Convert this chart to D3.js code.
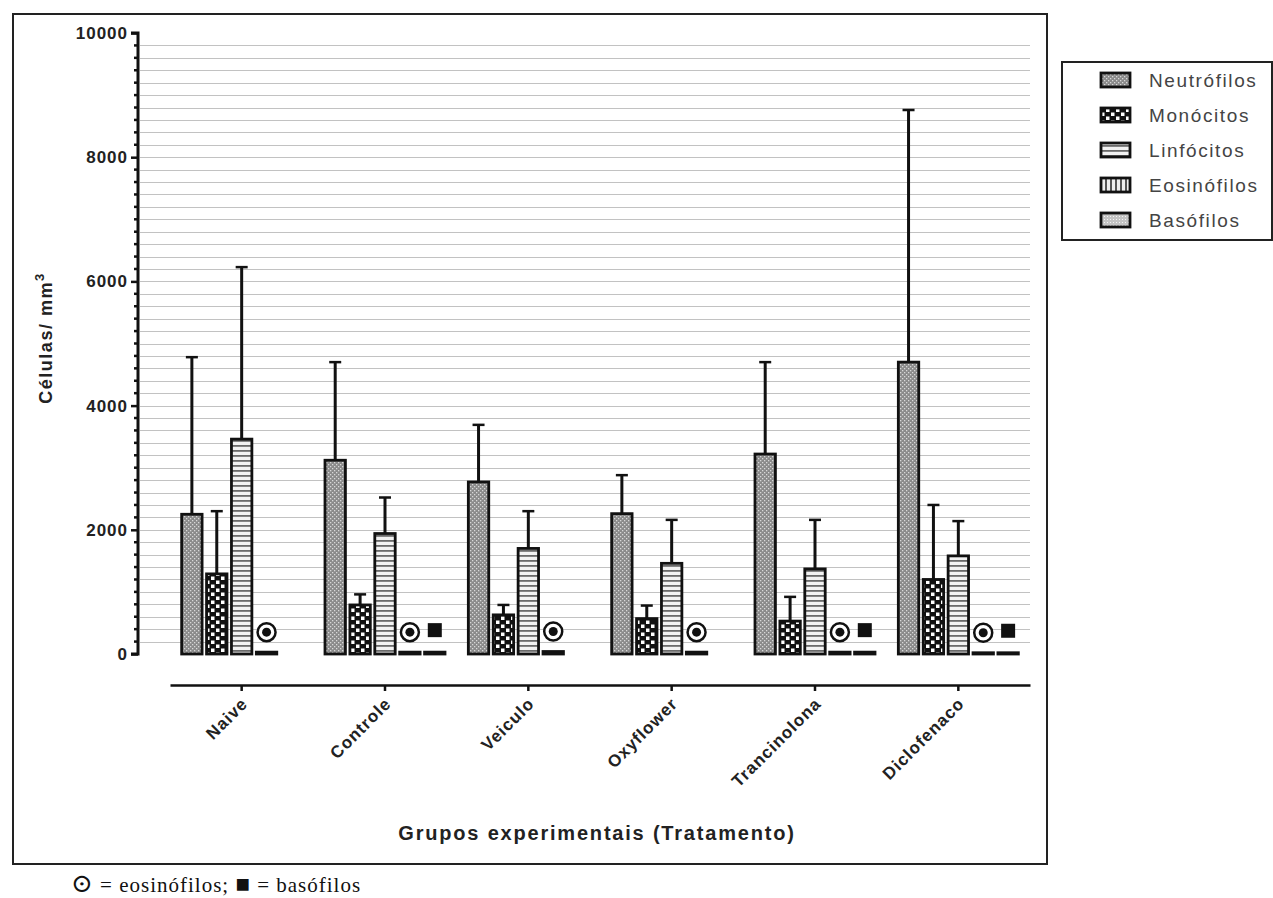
<!DOCTYPE html>
<html>
<head>
<meta charset="utf-8">
<script src="https://cdn.jsdelivr.net/npm/d3@7"></script>
<style>
  body { margin: 0; background: #fff; }
  svg { font-family: Arial, "Liberation Sans", sans-serif; }
</style>
</head>
<body>
<div id="chart"></div>
<script>
// data
const groups = ["Naive", "Controle", "Veiculo", "Oxyflower", "Trancinolona", "Diclofenaco"];
const series = ["Neutrófilos", "Monócitos", "Linfócitos", "Eosinófilos", "Basófilos"];
const neutrofilos = [2250, 3120, 2770, 2260, 3220, 4700];
const neutrofilosErr = [2530, 1580, 920, 620, 1480, 4060];
const monocitos = [1290, 790, 630, 570, 530, 1200];
const monocitosErr = [1010, 170, 160, 210, 390, 1200];
const linfocitos = [3460, 1940, 1700, 1460, 1370, 1580];
const linfocitosErr = [2770, 580, 600, 700, 790, 560];
const eosinofilos = [30, 30, 40, 30, 30, 20];
const basofilos = [null, 30, null, null, 30, 20];
const yTicks = [0, 2000, 4000, 6000, 8000, 10000];

const width = 1273;
const height = 898;

const values = [neutrofilos, monocitos, linfocitos, eosinofilos, basofilos];
const errors = [neutrofilosErr, monocitosErr, linfocitosErr, null, null];
const patternIds = ["p-neu", "p-mon", "p-lin", "p-eos", "p-bas"];

const svg = d3.select("#chart")
    .append("svg")
    .attr("width", width)
    .attr("height", height);

// patterns
const defs = svg.append("defs");

const pNeu = defs.append("pattern").attr("id", "p-neu")
    .attr("patternUnits", "userSpaceOnUse").attr("width", 4).attr("height", 4);
pNeu.append("rect").attr("width", 4).attr("height", 4).attr("fill", "#8a8a8a");
pNeu.append("rect").attr("x", 0).attr("y", 0).attr("width", 1.3).attr("height", 1.3).attr("fill", "#d8d8d8");
pNeu.append("rect").attr("x", 2).attr("y", 2).attr("width", 1.3).attr("height", 1.3).attr("fill", "#d8d8d8");

const pMon = defs.append("pattern").attr("id", "p-mon")
    .attr("patternUnits", "userSpaceOnUse").attr("width", 10).attr("height", 8);
pMon.append("rect").attr("width", 10).attr("height", 8).attr("fill", "#111");
pMon.append("rect").attr("x", 1).attr("y", 0.5).attr("width", 3.5).attr("height", 3.5).attr("fill", "#fff");
pMon.append("rect").attr("x", 6).attr("y", 4.5).attr("width", 3.5).attr("height", 3.5).attr("fill", "#fff");

const pLin = defs.append("pattern").attr("id", "p-lin")
    .attr("patternUnits", "userSpaceOnUse").attr("width", 4).attr("height", 5);
pLin.append("rect").attr("width", 4).attr("height", 5).attr("fill", "#f2f2f2");
pLin.append("rect").attr("y", 0).attr("width", 4).attr("height", 1.8).attr("fill", "#6a6a6a");

const pEos = defs.append("pattern").attr("id", "p-eos")
    .attr("patternUnits", "userSpaceOnUse").attr("width", 5).attr("height", 4);
pEos.append("rect").attr("width", 5).attr("height", 4).attr("fill", "#eee");
pEos.append("rect").attr("x", 0).attr("width", 2).attr("height", 4).attr("fill", "#555");

const pBas = defs.append("pattern").attr("id", "p-bas")
    .attr("patternUnits", "userSpaceOnUse").attr("width", 3).attr("height", 3);
pBas.append("rect").attr("width", 3).attr("height", 3).attr("fill", "#c4c4c4");
pBas.append("rect").attr("width", 1).attr("height", 1).attr("fill", "#f4f4f4");

// outer frame
svg.append("rect")
    .attr("x", 13).attr("y", 14)
    .attr("width", 1034).attr("height", 850)
    .attr("fill", "none")
    .attr("stroke", "#222")
    .attr("stroke-width", 2);

// scales
const x0 = d3.scaleBand()
    .domain(groups)
    .range([170, 1030]);

const groupWidth = 120;
const x1 = d3.scaleBand()
    .domain(series)
    .range([0, groupWidth])
    .paddingInner(0.18);

const y = d3.scaleLinear()
    .domain([0, 10000])
    .range([654, 33]);

const groupStart = g => x0(g) + (x0.bandwidth() - groupWidth) / 2;

// grid lines every 200
const minor = d3.range(200, 10000, 200);
svg.append("g")
    .selectAll("line")
    .data(minor)
    .enter().append("line")
    .attr("x1", 140)
    .attr("x2", 1030)
    .attr("y1", d => Math.round(y(d)) + 0.5)
    .attr("y2", d => Math.round(y(d)) + 0.5)
    .attr("stroke", "#c2c2c2")
    .attr("stroke-width", 1);

// Y axis
const yAxis = svg.append("g")
    .attr("transform", "translate(138,0)")
    .call(d3.axisLeft(y).tickValues(yTicks).tickSize(7).tickPadding(3).tickFormat(d3.format("d")));
yAxis.select(".domain").attr("stroke", "#111").attr("stroke-width", 3)
    .attr("d", `M-7,${y(10000)}H0V${y(0)}H-7`);
yAxis.selectAll(".tick line").attr("stroke", "#111").attr("stroke-width", 2.5);
yAxis.selectAll(".tick text")
    .style("font-size", "17px")
    .style("font-weight", "bold")
    .style("letter-spacing", "1px")
    .attr("fill", "#222");

// minor ticks
svg.append("g")
    .selectAll("line")
    .data(minor.filter(d => d % 2000 !== 0))
    .enter().append("line")
    .attr("x1", 134)
    .attr("x2", 138)
    .attr("y1", d => y(d))
    .attr("y2", d => y(d))
    .attr("stroke", "#111")
    .attr("stroke-width", 2.5);

// Y title
svg.append("text")
    .attr("transform", "translate(52,338) rotate(-90)")
    .attr("text-anchor", "middle")
    .style("font-size", "18px")
    .style("font-weight", "bold")
    .style("letter-spacing", "1.5px")
    .attr("fill", "#222")
    .html('Células/ mm<tspan dy="-8" font-size="13px">3</tspan>');

// X axis
const xAxis = svg.append("g")
    .attr("transform", "translate(0,685)")
    .call(d3.axisBottom(x0).tickSize(6).tickSizeOuter(0));
xAxis.select(".domain").attr("stroke", "#111").attr("stroke-width", 2.5);
xAxis.selectAll(".tick line").attr("stroke", "#111").attr("stroke-width", 2.5);
xAxis.selectAll(".tick text")
    .attr("transform", "rotate(-45)")
    .attr("text-anchor", "end")
    .attr("x", -9)
    .attr("y", 19)
    .attr("dy", 0)
    .style("font-size", "17px")
    .style("font-weight", "bold")
    .style("letter-spacing", "1px")
    .attr("fill", "#222");

// X title
svg.append("text")
    .attr("x", 597)
    .attr("y", 840)
    .attr("text-anchor", "middle")
    .style("font-size", "20px")
    .style("font-weight", "bold")
    .style("letter-spacing", "1.8px")
    .attr("fill", "#222")
    .text("Grupos experimentais (Tratamento)");

// bars
const barData = [];
groups.forEach((g, gi) => {
    series.forEach((s, si) => {
        const v = values[si][gi];
        if (v === null) return;
        barData.push({
            group: g,
            series: s,
            si: si,
            value: v,
            err: errors[si] ? errors[si][gi] : 0
        });
    });
});

const barG = svg.append("g");

// error bars (drawn first, bars on top)
barG.selectAll(".err")
    .data(barData.filter(d => d.err > 0))
    .enter().append("g")
    .attr("class", "err")
    .each(function(d) {
        const cx = groupStart(d.group) + x1(d.series) + x1.bandwidth() / 2;
        const g = d3.select(this);
        g.append("line")
            .attr("x1", cx).attr("x2", cx)
            .attr("y1", y(d.value))
            .attr("y2", y(d.value + d.err))
            .attr("stroke", "#111")
            .attr("stroke-width", 3);
        g.append("line")
            .attr("x1", cx - 6).attr("x2", cx + 6)
            .attr("y1", y(d.value + d.err))
            .attr("y2", y(d.value + d.err))
            .attr("stroke", "#111")
            .attr("stroke-width", 2.5);
    });

barG.selectAll("rect")
    .data(barData)
    .enter().append("rect")
    .attr("x", d => groupStart(d.group) + x1(d.series))
    .attr("y", d => y(d.value))
    .attr("width", x1.bandwidth())
    .attr("height", d => Math.max(0.5, y(0) - y(d.value)))
    .attr("fill", d => `url(#${patternIds[d.si]})`)
    .attr("stroke", "#111")
    .attr("stroke-width", 2.8);

// markers above eosinophils (circle) and basophils (square)
barData.filter(d => d.si === 3).forEach(d => {
    const cx = groupStart(d.group) + x1(d.series) + x1.bandwidth() / 2;
    const cy = y(d.value) - 20;
    barG.append("circle").attr("cx", cx).attr("cy", cy).attr("r", 9)
        .attr("fill", "#fff").attr("stroke", "#111").attr("stroke-width", 2.5);
    barG.append("circle").attr("cx", cx).attr("cy", cy).attr("r", 4.5)
        .attr("fill", "#111");
});
barData.filter(d => d.si === 4).forEach(d => {
    const cx = groupStart(d.group) + x1(d.series) + x1.bandwidth() / 2;
    const cy = y(d.value) - 22;
    barG.append("rect").attr("x", cx - 7).attr("y", cy - 7)
        .attr("width", 14).attr("height", 14)
        .attr("fill", "#111");
});

// legend
const legend = svg.append("g");
legend.append("rect")
    .attr("x", 1062).attr("y", 62)
    .attr("width", 210).attr("height", 178)
    .attr("fill", "#fff")
    .attr("stroke", "#222")
    .attr("stroke-width", 2);

const legendY = d3.scalePoint()
    .domain(series)
    .range([80, 220]);

legend.selectAll(".sw")
    .data(series)
    .enter().append("rect")
    .attr("class", "sw")
    .attr("x", 1101)
    .attr("y", d => legendY(d) - 7)
    .attr("width", 29)
    .attr("height", 14)
    .attr("fill", (d, i) => `url(#${patternIds[i]})`)
    .attr("stroke", "#111")
    .attr("stroke-width", 2.8);

legend.selectAll(".lt")
    .data(series)
    .enter().append("text")
    .attr("class", "lt")
    .attr("x", 1149)
    .attr("y", d => legendY(d) + 7)
    .style("font-size", "19px")
    .style("letter-spacing", "1.6px")
    .attr("fill", "#444")
    .text(d => d);

// footnote
svg.append("text")
    .attr("x", 71)
    .attr("y", 892)
    .style("font-family", "'Liberation Serif', 'DejaVu Serif', serif")
    .style("font-size", "21px")
    .style("letter-spacing", "1px")
    .attr("fill", "#111")
    .html('<tspan font-size="26px">⊙</tspan> = eosinófilos; <tspan font-size="24px">■</tspan> = basófilos');
</script>
</body>
</html>
